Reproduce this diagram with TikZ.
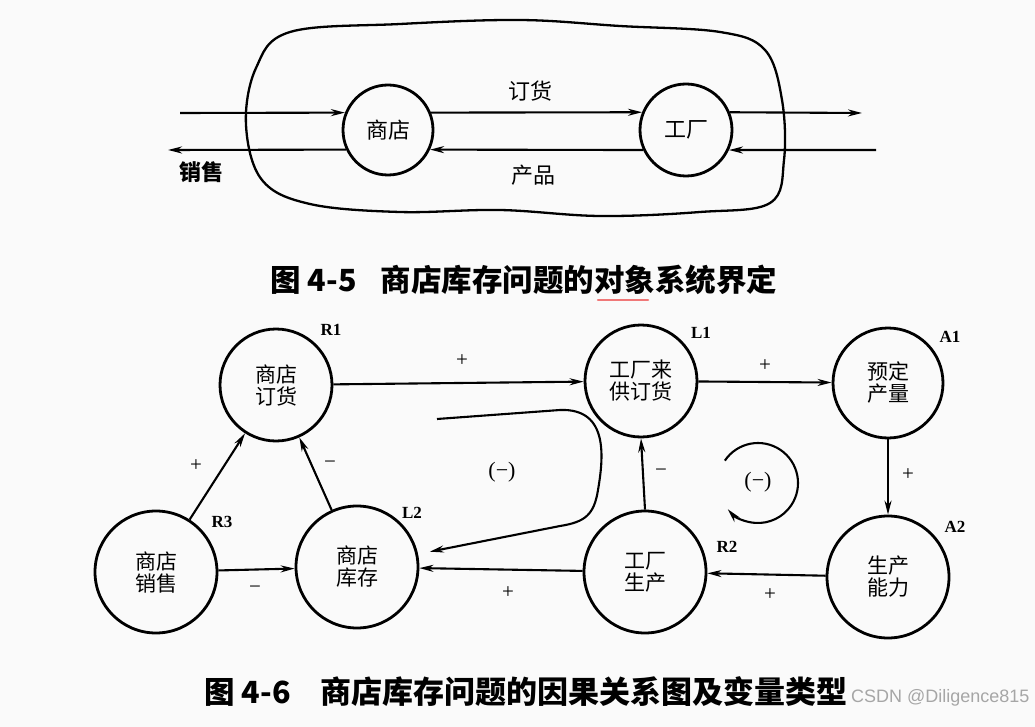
\documentclass[tikz,border=0pt]{standalone}
\usepackage{fontspec}
\setmainfont{Liberation Serif}
\newfontfamily\cjk{Noto Sans CJK SC}
\newfontfamily\wm{Liberation Sans}
\usetikzlibrary{arrows.meta}
\definecolor{bgc}{RGB}{250,250,250}
\definecolor{ulred}{RGB}{240,120,120}
\begin{document}
\begin{tikzpicture}[x=1pt,y=-1pt,
  circ/.style={circle,draw,line width=2.8pt,inner sep=0pt,align=center,
    font=\cjk\fontsize{21}{22}\selectfont},
  arr/.style={line width=2.1pt,-{Stealth[length=14pt,width=7pt]}},
  sgn/.style={font=\fontsize{21}{21}\selectfont},
  tag/.style={font=\bfseries\fontsize{17}{17}\selectfont},
  lbl/.style={font=\cjk\fontsize{22}{22}\selectfont},
  captxt/.style={font=\cjk\bfseries\fontsize{30.5}{30.5}\selectfont,anchor=west}]
\fill[bgc] (0,0) rectangle (1035,727);
\useasboundingbox (0,0) rectangle (1035,727);
% ---------- Figure 4-5 ----------
\draw[line width=2.3pt] plot[smooth cycle,tension=0.6] coordinates {
  (290,32) (400,24) (520,20) (620,26) (720,32) (765,50) (782,100)
  (784,160) (770,203) (700,212) (600,216) (500,210) (400,212)
  (310,204) (262,180) (246,125) (256,68)};
\node[circ,minimum size=90pt,font=\cjk\fontsize{22}{22}\selectfont] (shop) at (388,130) {商店};
\node[circ,minimum size=92pt,font=\cjk\fontsize{22}{22}\selectfont] (fac) at (686,130) {工厂};
\coordinate (inL) at (180,113);
\coordinate (outL) at (168,150);
\coordinate (outR) at (862,113);
\coordinate (inR) at (876,150);
\draw[arr] (inL) -- (shop.158);
\draw[arr] (shop.22) -- (fac.158);
\draw[arr] (fac.22) -- (outR);
\draw[arr] (inR) -- (fac.-25);
\draw[arr] (fac.205) -- (shop.-25);
\draw[arr] (shop.205) -- (outL);
\node[lbl] (dh) at (530,91) {订货};
\node[lbl] (cp) at (533,175) {产品};
\node[lbl,font=\cjk\bfseries\fontsize{22}{22}\selectfont] (xsh) at (201,172) {销售};
\node[captxt] (cap1n) at (267,280) {图 4-5};
\node[captxt] (cap1) at (377,280) {商店库存问题的对象系统界定};
\draw[ulred,line width=2.5pt,line cap=round] (598,300) -- (648,300);
% ---------- Figure 4-6 ----------
\node[circ,minimum size=112pt] (ord) at (276,385) {商店\\订货};
\node[circ,minimum size=112pt] (lai) at (641,381) {工厂来\\供订货};
\node[circ,minimum size=110pt] (yu) at (888,383) {预定\\产量};
\node[circ,minimum size=122pt] (xs) at (156,572) {商店\\销售};
\node[circ,minimum size=122pt] (kc) at (357,567) {商店\\库存};
\node[circ,minimum size=122pt] (sc) at (645,572) {工厂\\生产};
\node[circ,minimum size=122pt] (nl) at (888,577) {生产\\能力};
\draw[arr] (ord) -- (lai);
\draw[arr] (lai) -- (yu);
\draw[arr] (yu) -- (nl);
\draw[arr] (nl) -- (sc);
\draw[arr] (sc) -- (kc);
\draw[arr] (xs) -- (kc);
\draw[arr] (xs) -- (ord);
\draw[arr] (kc) -- (ord);
\draw[arr] (sc.north) -- (lai.south);
\coordinate (c0) at (437,419);
\draw[arr,shorten >=12pt] (c0) -- (560,410) .. controls (610,408) and (603,460) .. (598,490)
  .. controls (594,515) and (585,522) .. (560,526) -- (kc.12);
\coordinate (lc) at (758,483);
\draw[arr] ([shift={(214:40)}]lc) arc[start angle=214,end angle=499,radius=40];
\node[sgn] (s1) at (462,361) {+};
\node[sgn] (s2) at (765,366) {+};
\node[sgn] (s3) at (908,475) {+};
\node[sgn] (s4) at (661,473) {−};
\node[sgn] (s5) at (770,595) {+};
\node[sgn] (s6) at (508,593) {+};
\node[sgn] (s7) at (255,590) {−};
\node[sgn] (s8) at (196,466) {+};
\node[sgn] (s9) at (330,465) {−};
\node[sgn,font=\fontsize{22}{22}\selectfont] (n1) at (502,472) {(−)};
\node[sgn,font=\fontsize{22}{22}\selectfont] (n2) at (758,482) {(−)};
\node[tag] (tR1) at (331,330) {R1};
\node[tag] (tL1) at (701,333) {L1};
\node[tag] (tA1) at (950,337) {A1};
\node[tag] (tR3) at (222,522) {R3};
\node[tag] (tL2) at (412,513) {L2};
\node[tag] (tR2) at (727,547) {R2};
\node[tag] (tA2) at (955,527) {A2};
\node[captxt] (cap2n) at (201,692) {图 4-6};
\node[captxt,font=\cjk\bfseries\fontsize{31}{31}\selectfont] (cap2) at (317,692) {商店库存问题的因果关系图及变量类型};
\node[font=\wm\fontsize{18}{18}\selectfont,text=gray!70,anchor=east] (wmk) at (1033,698) {CSDN @Diligence815};
\end{tikzpicture}
\end{document}
